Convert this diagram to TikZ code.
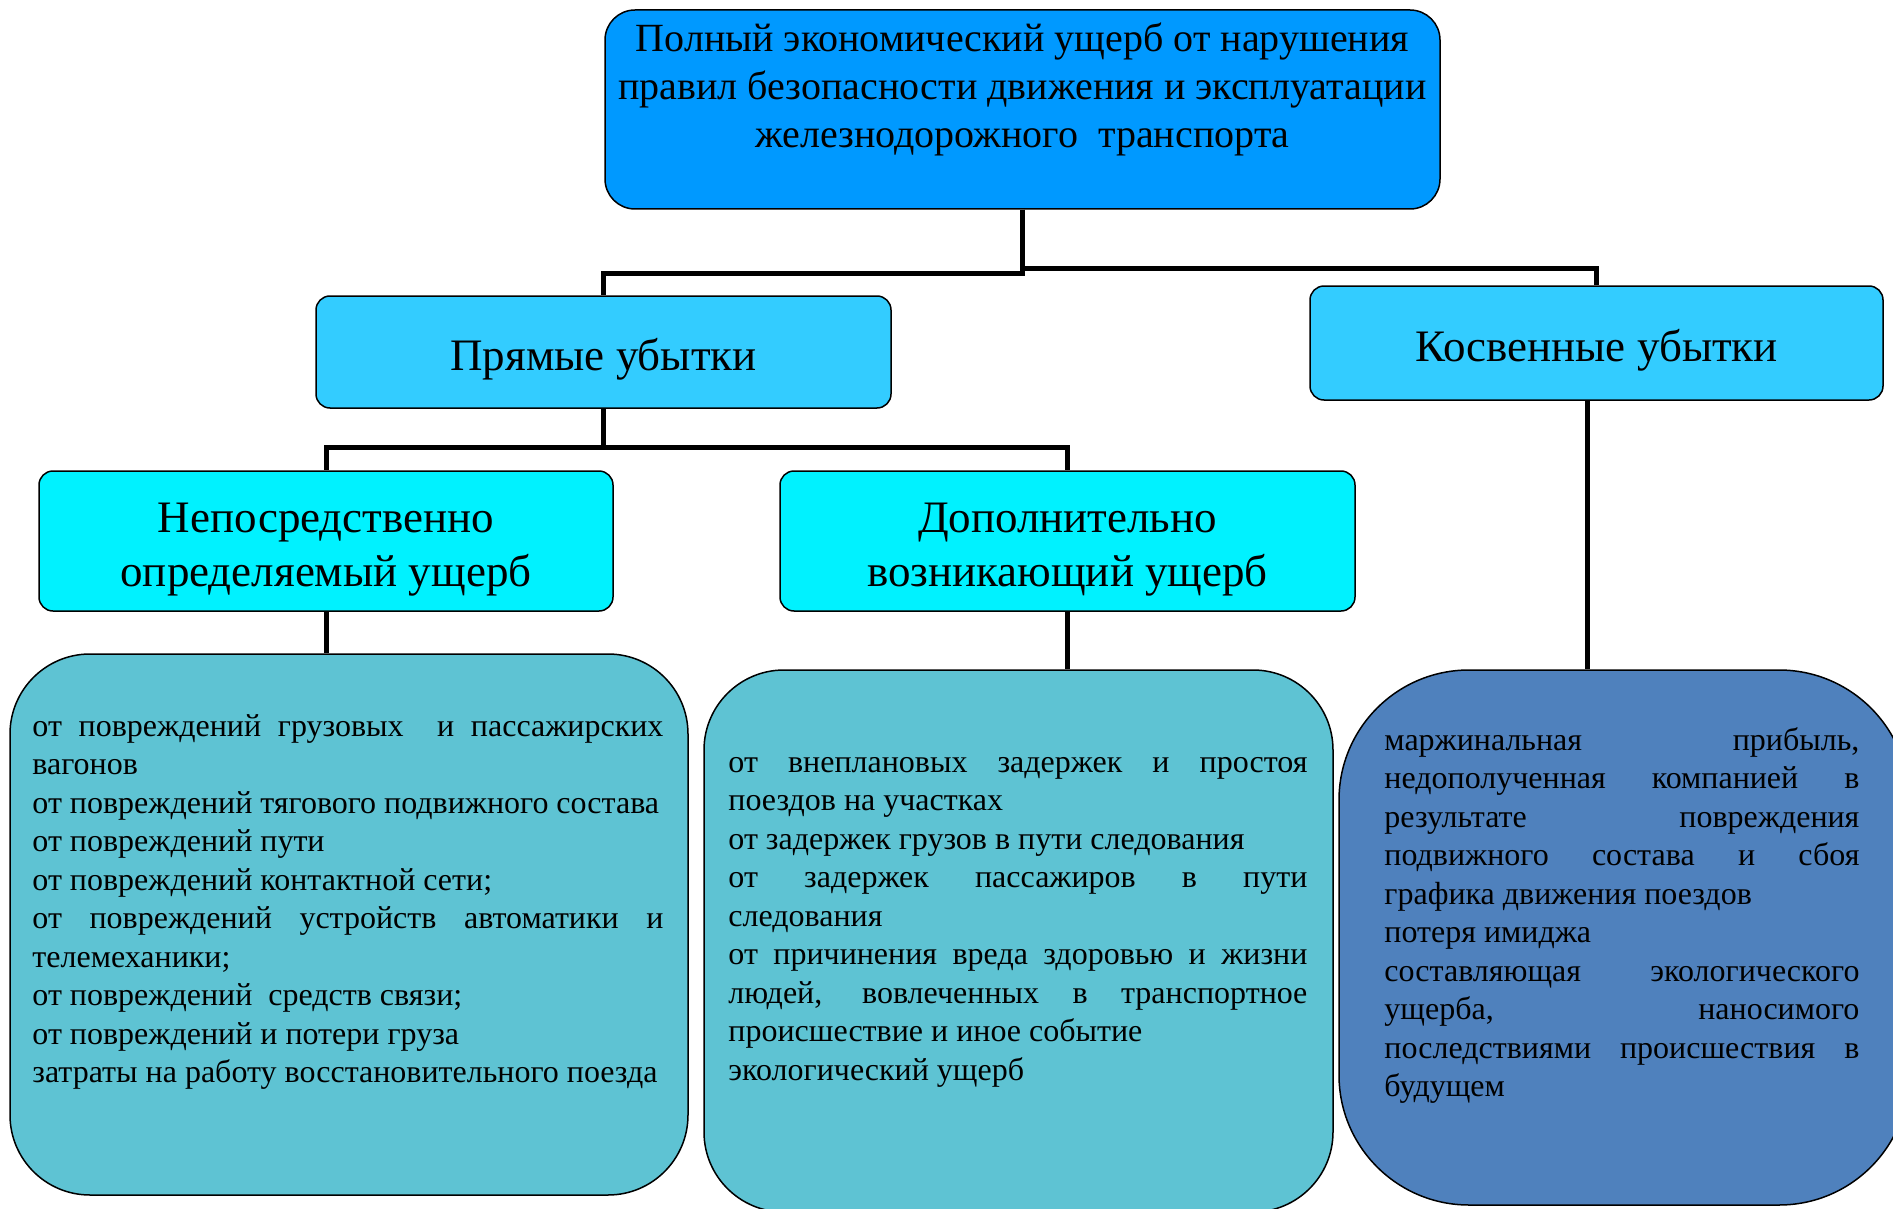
\documentclass[tikz,border=0pt]{standalone}
\usepackage{fontspec}
\setmainfont{Liberation Serif}
\usetikzlibrary{positioning}

\definecolor{titleblue}{HTML}{0099FF}
\definecolor{kindblue}{HTML}{33CCFF}
\definecolor{partcyan}{HTML}{00F2FF}
\definecolor{listteal}{HTML}{5EC3D3}
\definecolor{indirblue}{HTML}{4F81BD}

\newcommand{\titlefont}{\fontsize{40}{48}\selectfont}
\newcommand{\headfont}{\fontsize{45}{54}\selectfont}
\newcommand{\itemfont}{\fontsize{32}{38.5}\selectfont\parindent=0pt}
\newcommand{\headstrut}{\rule{0pt}{46pt}}

\begin{document}
\begin{tikzpicture}[x=1pt, y=1pt,
  box/.style={draw, line width=1.5pt, rounded corners=#1, inner sep=0pt},
  box/.default=14,
  head/.style={box, align=center, font=\headfont},
  list/.style={inner sep=0pt, anchor=north west, align=justify, font=\itemfont},
  link/.style={line width=5pt}]
  \useasboundingbox (0,0) rectangle (1893,-1209);

  % Verkhniy uroven
  \node[box=30, fill=titleblue, align=center, font=\titlefont,
        minimum width=835, minimum height=199] (top) at (1022.5,-109.5)
    {Полный экономический ущерб от нарушения\\
     правил безопасности движения и эксплуатации\\
     железнодорожного\ \ транспорта\\ \mbox{}};

  % Vidy ubytkov
  \node[head, fill=kindblue, minimum width=575, minimum height=112] (pr) at (603.5,-352)
    {\headstrut Прямые убытки};
  \node[head, fill=kindblue, minimum width=573, minimum height=114] (kos) at (1596.5,-343)
    {\headstrut Косвенные убытки};

  % Sostav pryamykh
  \node[head, fill=partcyan, minimum width=574, minimum height=140] (nep) at (326,-541)
    {\headstrut Непосредственно\\ определяемый ущерб};
  \node[head, fill=partcyan, minimum width=575, minimum height=140] (dop) at (1067.5,-541)
    {\headstrut Дополнительно\\ возникающий ущерб};

  % Perechni
  \node[box=80, fill=listteal, minimum width=678, minimum height=541] (b1) at (349,-924.5) {};
  \node[box=80, fill=listteal, minimum width=629, minimum height=542] (b2) at (1018.5,-941) {};
  \node[box=130, fill=indirblue, minimum width=570, minimum height=535] (b3) at (1624,-937.5) {};

  \node[list, text width=631] (t1) at ([shift={(23,-56)}]b1.north west)
    {\strut от повреждений грузовых\ \ и пассажирских\linebreak вагонов\par
     от повреждений тягового подвижного состава\par
     от повреждений пути\par
     от повреждений контактной сети;\par
     от повреждений устройств автоматики и\linebreak телемеханики;\par
     от повреждений\ \ средств связи;\par
     от повреждений и потери груза\par
     затраты на работу восстановительного поезда};
  \node[list, text width=579] (t2) at ([shift={(25,-76)}]b2.north west)
    {\strut от внеплановых задержек и простоя\linebreak поездов на участках\par
     от задержек грузов в пути следования\par
     от задержек пассажиров в пути\linebreak следования\par
     от причинения вреда здоровью и жизни\linebreak людей, вовлеченных в транспортное\linebreak
     происшествие и иное событие\par
     экологический ущерб};
  \node[list, text width=475] (t3) at ([shift={(46,-54)}]b3.north west)
    {\strut маржинальная прибыль,\linebreak недополученная компанией в\linebreak
     результате повреждения\linebreak подвижного состава и сбоя\linebreak
     графика движения поездов\par
     потеря имиджа\par
     составляющая экологического\linebreak ущерба, наносимого\linebreak
     последствиями происшествия в\linebreak будущем};

  % Svyazi
  \draw[link] (top.south) -- ++(0,-64) -| (pr.north);
  \draw[link] (top.south) -- ++(0,-59) -| (kos.north);
  \draw[link] (pr.south) -- ++(0,-39) -| (nep.north);
  \draw[link] (pr.south) -- ++(0,-39) -| (dop.north);
  \draw[link] (nep.south) -- (nep.south |- b1.north);
  \draw[link] (dop.south) -- (dop.south |- b2.north);
  \draw[link] ([xshift=-9]kos.south) -- ([xshift=-9]kos.south |- b3.north);
\end{tikzpicture}
\end{document}
